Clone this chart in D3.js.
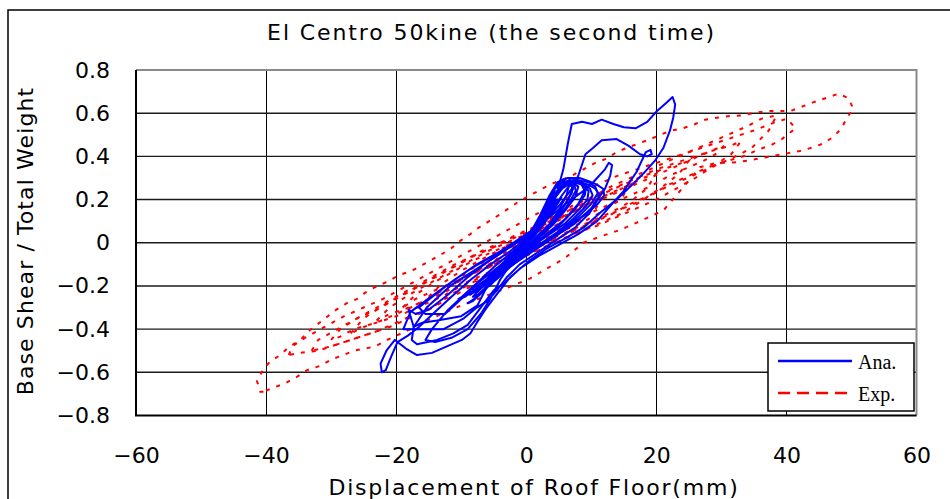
<!DOCTYPE html>
<html>
<head>
<meta charset="utf-8">
<script src="https://cdn.jsdelivr.net/npm/d3@7/dist/d3.min.js"></script>
<style>
  html, body { margin: 0; padding: 0; background: #fff; }
  svg { display: block; }
  text { fill: #000; }
</style>
</head>
<body>
<svg id="chart" width="950" height="499"></svg>
<script>
// Axis ticks
const xTicks = [-60, -40, -20, 0, 20, 40, 60];
const yTicks = [-0.8, -0.6, -0.4, -0.2, 0, 0.2, 0.4, 0.6, 0.8];

// Texts
const chartTitle = "El Centro 50kine (the second time)";
const xTitle = "Displacement of Roof Floor(mm)";
const yTitle = "Base Shear / Total Weight";
const seriesNames = ["Ana.", "Exp."];

// Analysis: [displacement (mm), base shear / total weight]
const anaSmall = [
  [0,0],[1.2,0.04],[2.5,0.09],[3.6,0.13],[3,0.11],[1.5,0.05],[0,0],[-1.5,-0.04],[-2.8,-0.08],[-3.6,-0.1],[-2.8,-0.08],[-1.2,-0.03],
  [0.5,0.02],[2,0.08],[3.5,0.14],[4.8,0.19],[5.4,0.21],[4.6,0.17],[3,0.1],[1.2,0.03],[-0.8,-0.03],[-2.6,-0.08],[-4.2,-0.12],[-5.2,-0.15],[-4.4,-0.13],[-2.6,-0.07],[-0.8,-0.01],
  [1,0.05],[2.8,0.13],[4.2,0.2],[5.5,0.25],[6.5,0.27],[7.4,0.27],[7.6,0.24],[6.5,0.18],[4.8,0.11],[2.6,0.04],[0.4,-0.02],[-2,-0.08],[-4.2,-0.13],[-6,-0.17],[-6.8,-0.19],[-6,-0.18],[-4,-0.13],[-2,-0.07],[0,-0.01],
  [1.8,0.07],[3.2,0.15],[4.5,0.23],[5.6,0.27],[7,0.285],[8.4,0.28],[9.2,0.26],[9,0.22],[7.6,0.16],[5.4,0.09],[3,0.03],[0.6,-0.03],[-1.8,-0.09],[-4,-0.14],[-6.4,-0.19],[-8,-0.22],[-8.4,-0.21],[-7.2,-0.18],[-5,-0.13],[-2.6,-0.07],[-0.4,-0.01],
  [1.6,0.07],[3.4,0.16],[4.8,0.23],[6.2,0.28],[7.8,0.29],[9.6,0.28],[10.6,0.26],[11,0.23],[10,0.18],[8,0.12],[5.5,0.06],[3,0.01],[0.5,-0.04],[-2,-0.1],[-4.6,-0.16],[-7,-0.21],[-8.8,-0.24],[-8.2,-0.23],[-6,-0.17],[-3.4,-0.09],[-1,-0.02],
  [0.8,0.04],[2.2,0.11],[3.6,0.18],[4.6,0.23],[5.2,0.26],[6,0.28],[6.8,0.275],[7.2,0.25],[6.4,0.2],[5,0.13],[3.2,0.07],[1.2,0.01],[-1,-0.05],[-3,-0.1],[-5,-0.15],[-6.5,-0.18],[-7.4,-0.2],[-6.6,-0.19],[-4.8,-0.14],[-2.8,-0.08],[-0.8,-0.02],
  [1.4,0.06],[3,0.14],[4.4,0.21],[5.8,0.26],[7.2,0.28],[8.6,0.27],[9.6,0.24],[9.4,0.2],[8,0.15],[6,0.09],[3.6,0.04],[1.2,-0.01],[-1.4,-0.07],[-3.8,-0.12],[-5.6,-0.16],[-7.2,-0.2],[-7.8,-0.22],[-6.8,-0.2],[-4.6,-0.14],[-2.2,-0.07],[0,-0.01]
];

const anaDense = [
  [0,0.01],[1.5,0.08],[2.8,0.16],[3.8,0.23],[4.6,0.27],[5.4,0.29],[6.4,0.3],[7.2,0.28],[7,0.23],[5.8,0.17],[4,0.1],[2,0.04],[0,-0.02],[-2.2,-0.08],[-4.4,-0.14],[-6.2,-0.19],[-7.6,-0.23],[-8.2,-0.25],[-7.4,-0.24],[-5.6,-0.19],[-3.6,-0.13],[-1.6,-0.06],
  [0.4,0.02],[2,0.1],[3.4,0.19],[4.4,0.25],[5.6,0.28],[6.8,0.29],[8,0.29],[9,0.27],[9.8,0.25],[10.2,0.22],[9.2,0.17],[7.2,0.11],[4.8,0.05],[2.4,0],[0,-0.05],[-2.4,-0.11],[-4.6,-0.17],[-6.6,-0.22],[-8,-0.26],[-9,-0.28],[-8.2,-0.27],[-6.4,-0.22],[-4.2,-0.15],[-2,-0.08],[0,-0.01],
  [1.6,0.08],[3,0.17],[4,0.24],[5,0.27],[6,0.285],[6.6,0.27],[6.2,0.22],[5,0.15],[3.4,0.08],[1.6,0.03],[-0.4,-0.03],[-2.6,-0.09],[-4.8,-0.15],[-6.8,-0.2],[-9.2,-0.24],[-10.4,-0.26],[-9.4,-0.25],[-7.2,-0.2],[-4.8,-0.13],[-2.4,-0.06],[0,0.01],
  [2,0.12],[3.6,0.22],[4.8,0.28],[6.4,0.3],[8.2,0.3],[9.6,0.285],[10.8,0.27],[11.8,0.25],[12,0.22],[11,0.18],[9,0.13],[6.6,0.08],[4,0.03],[1.4,-0.02],[-1,-0.07],[-3.4,-0.13],[-5.6,-0.18],[-7.6,-0.22],[-8.6,-0.24],[-7.6,-0.21],[-5.4,-0.15],[-3,-0.08],[-0.8,-0.02],
  [1,0.04],[2.6,0.12],[3.8,0.2],[4.4,0.24],[3.8,0.18],[2.4,0.1],[0.8,0.03],[-1,-0.04],[-3,-0.1],[-5,-0.16],[-6.4,-0.21],[-5.6,-0.2],[-3.8,-0.14],[-1.8,-0.07],[0,0]
];

const anaLarge = [
  [0.8,0.03],[2.6,0.11],[4,0.18],[4.7,0.23],[5.7,0.34],[6.4,0.46],[7,0.55],[8.6,0.56],[10.1,0.55],[11.6,0.57],[13.4,0.55],[15,0.535],[16.8,0.53],[18.6,0.56],[20.1,0.61],[21.6,0.65],[22.5,0.675],[22.9,0.64],[22.6,0.58],[22.1,0.52],[21.1,0.44],[19.8,0.38],[18,0.32],[16,0.26],[13.9,0.2],[11.4,0.14],[8.8,0.07],[6,0.02],[3,-0.03],[0.6,-0.08],[-2.5,-0.16],[-4.8,-0.25],[-6.3,-0.31],[-7.6,-0.37],[-8.6,-0.42],[-9.9,-0.45],[-12.2,-0.48],[-14.5,-0.51],[-16.8,-0.52],[-18.5,-0.49],[-20.2,-0.45],[-21.5,-0.5],[-22.4,-0.56],[-22.2,-0.6],[-21.6,-0.59],[-20.8,-0.53],[-19.8,-0.46],[-18.2,-0.43],[-16.5,-0.39],[-14,-0.32],[-11.5,-0.25],[-8.5,-0.17],[-5.5,-0.1],[-2.5,-0.04],[0,0.02],
  [2.5,0.09],[5,0.17],[7,0.25],[8,0.31],[9.1,0.41],[10.3,0.44],[11.6,0.475],[13.9,0.48],[15.7,0.45],[17.5,0.41],[18.6,0.4],[19.3,0.41],[19.1,0.43],[18.4,0.42],[17.6,0.37],[17,0.33],[15,0.24],[12.9,0.17],[10.9,0.1],[8,0.04],[5,-0.01],[2,-0.06],[-1,-0.12],[-3.5,-0.19],[-5,-0.22],[-7,-0.3],[-9,-0.38],[-11.2,-0.42],[-13.7,-0.45],[-16.8,-0.47],[-17.6,-0.45],[-17.3,-0.39],[-15.3,-0.3],[-11.7,-0.2],[-8.1,-0.13],[-5,-0.07],[-2,-0.01],[1,0.05]
];

const anaLate = [
  [1,0.05],[4,0.13],[6.5,0.19],[8.8,0.24],[10.3,0.28],[12.1,0.34],[12.7,0.37],[13.2,0.36],[12.9,0.31],[12.1,0.25],[11.1,0.205],[9.8,0.14],[7.5,0.07],[5,0.02],[2,-0.04],[-1,-0.1],[-3,-0.16],[-4.5,-0.22],[-6,-0.27],[-7.6,-0.3],[-9.6,-0.35],[-12.7,-0.4],[-16.3,-0.4],[-18.9,-0.4],[-17.8,-0.32],[-13.7,-0.23],[-10.7,-0.165],[-7.6,-0.1],[-4,-0.04],[-1,0.01],
  [2,0.07],[4,0.15],[5.5,0.22],[6.5,0.26],[8,0.28],[9.5,0.27],[10.6,0.25],[11.3,0.22],[10,0.16],[7.5,0.09],[5,0.04],[2.5,-0.01],[0,-0.06],[-3,-0.12],[-5,-0.16],[-6.6,-0.18],[-8.6,-0.22],[-10.7,-0.28],[-12.5,-0.33],[-15.5,-0.33],[-16.5,-0.3],[-14,-0.24],[-11,-0.17],[-8,-0.11],[-5,-0.06],[-2,0],
  [1.5,0.07],[3.5,0.16],[5,0.24],[6,0.28],[7.5,0.29],[8.5,0.27],[9,0.24],[8,0.18],[6,0.11],[3.5,0.05],[1,-0.01],[-2,-0.08],[-4.5,-0.15],[-6,-0.2],[-7.5,-0.29],[-10,-0.34],[-13.7,-0.36],[-16,-0.37],[-17.3,-0.39],[-18.1,-0.31],[-17,-0.33],[-15,-0.31],[-12,-0.24],[-9,-0.16],[-6,-0.09],[-3,-0.03],[0,0.03],
  [2,0.1],[3.5,0.17],[4.6,0.22],[5.8,0.27],[7,0.28],[8,0.26],[7.5,0.21],[6,0.15],[4,0.08],[2,0.03],[0,-0.02],[-2,-0.08],[-4,-0.17],[-5.5,-0.26],[-7,-0.33],[-9,-0.4],[-11.5,-0.44],[-14,-0.46],[-15.5,-0.45],[-14.5,-0.4],[-12,-0.31],[-9.5,-0.24],[-7,-0.17],[-4.5,-0.1],[-2,-0.04],[0,0.01],
  [2,0.08],[3.5,0.15],[4.6,0.2],[3.6,0.14],[2,0.07],[0,0],[-2,-0.07],[-4,-0.12],[-5.5,-0.16],[-6.5,-0.2],[-5.5,-0.18],[-3.5,-0.12],[-1.5,-0.05],[0.5,0.02],[2.5,0.1],[3.8,0.16],[4.8,0.2],[4,0.15],[2.5,0.08],[0.5,0.01],[-1.5,-0.05],[-3,-0.09],[-4,-0.12],[-3,-0.09],[-1.5,-0.04],[0,0]
];

// Experiment: one array per cycle
const expCycle1 = [
  [-40.4,-0.69],[-40.9,-0.69],[-41.4,-0.64],[-40.5,-0.59],[-39.4,-0.55],[-37.8,-0.52],[-36.4,-0.48],[-34.7,-0.45],[-33.5,-0.41],[-32.2,-0.38],[-30.5,-0.34],[-29.2,-0.31],[-27.6,-0.28],[-26,-0.26],[-24.7,-0.23],[-22.9,-0.2],[-21.3,-0.18],[-19.6,-0.15],[-17.6,-0.13],[-15.8,-0.1],[-13.7,-0.065],[-11.7,-0.03],[-10.1,0.01],[-8.6,0.04],[-7.3,0.07],[-4.1,0.13],[-1.2,0.19],[0.6,0.22],[3.7,0.27],[7,0.31],[10.6,0.37],[12.4,0.39],[13.9,0.42],[15.5,0.44],[17.3,0.46],[19.1,0.48],[20.6,0.5],[22.4,0.52],[24.1,0.53],[26,0.55],[27.5,0.57],[29.6,0.58],[31.4,0.587],[33.2,0.59],[34.9,0.6],[37,0.61],[40.6,0.61],[44.1,0.65],[48,0.69],[49.5,0.67],[50.3,0.62],[49.3,0.58],[48.5,0.53],[47.2,0.49],[45.7,0.46],[43.9,0.44],[42.1,0.425],[40.3,0.415],[38.5,0.405],[36.7,0.395],[34.9,0.385],[32.9,0.375],[31.1,0.37],[29.3,0.37],[26.7,0.35],[24.5,0.27],[21.1,0.15],[17.5,0.1],[14.5,0.06],[11.5,0.03],[8.8,0],[6,-0.07],[3.7,-0.11],[0.6,-0.165],[-3,-0.21],[-6.5,-0.25],[-10,-0.29],[-13,-0.33],[-16,-0.37],[-18.5,-0.41],[-21.4,-0.45],[-23.2,-0.48],[-26.5,-0.5],[-28.1,-0.52],[-29.9,-0.54],[-31.7,-0.57],[-33.7,-0.59],[-35.2,-0.62],[-37,-0.65],[-38.8,-0.67],[-40.4,-0.69]
];
const expCycle2 = [
  [-36.5,-0.52],[-36,-0.48],[-34,-0.44],[-31,-0.39],[-28,-0.34],[-25,-0.3],[-22,-0.26],[-19,-0.21],[-16,-0.16],[-13,-0.11],[-10,-0.06],[-7,-0.01],[-4,0.04],[-1,0.09],[2,0.14],[5,0.19],[8,0.23],[11,0.27],[14,0.31],[17,0.34],[20,0.37],[23,0.4],[26,0.43],[29,0.46],[32,0.49],[35,0.52],[38,0.555],[40.1,0.575],[41.4,0.53],[39.3,0.48],[37.5,0.45],[35.5,0.43],[33.9,0.405],[31,0.38],[28,0.35],[25,0.31],[22,0.27],[19,0.22],[16,0.18],[13,0.13],[10,0.09],[7,0.05],[4,0.01],[1,-0.03],[-2,-0.08],[-5,-0.13],[-8,-0.18],[-11,-0.23],[-14,-0.29],[-17,-0.33],[-20,-0.37],[-23,-0.41],[-26,-0.44],[-29,-0.47],[-32,-0.5],[-34.7,-0.51],[-36.5,-0.52]
];
const expCycle3 = [
  [-33,-0.5],[-32,-0.45],[-29,-0.4],[-26,-0.35],[-23,-0.31],[-20,-0.26],[-17,-0.21],[-14,-0.16],[-11,-0.11],[-8,-0.06],[-5,-0.02],[-2,0.03],[1,0.07],[4,0.12],[7,0.17],[10,0.21],[13,0.26],[16,0.3],[19,0.34],[22,0.38],[25,0.42],[28,0.46],[31,0.5],[34,0.54],[36.2,0.575],[38.5,0.59],[37.3,0.52],[36,0.48],[34.7,0.44],[32.9,0.41],[30,0.37],[27,0.33],[24,0.29],[21,0.25],[18,0.2],[15,0.16],[12,0.12],[9,0.08],[6,0.04],[3,0],[0,-0.05],[-3,-0.1],[-6,-0.15],[-9,-0.21],[-12,-0.26],[-15,-0.31],[-18,-0.35],[-21,-0.39],[-24,-0.42],[-27,-0.45],[-30,-0.48],[-33,-0.5]
];
const expCycle4 = [
  [-30,-0.45],[-28.6,-0.4],[-26,-0.35],[-23,-0.3],[-20,-0.25],[-17,-0.2],[-14,-0.15],[-11,-0.1],[-8,-0.06],[-5,-0.02],[-2,0.02],[1,0.06],[4,0.1],[7,0.14],[10,0.18],[13,0.22],[16,0.26],[19,0.3],[22,0.34],[25,0.38],[28,0.42],[30.4,0.45],[29.1,0.41],[27.3,0.38],[25,0.35],[22,0.31],[19,0.26],[16,0.22],[13,0.18],[10,0.14],[7,0.1],[4,0.06],[1,0.01],[-2,-0.04],[-5,-0.09],[-8,-0.14],[-11,-0.19],[-14,-0.24],[-17,-0.29],[-20,-0.33],[-23,-0.37],[-26.5,-0.4],[-28.6,-0.435],[-30,-0.45]
];
const expCycle5 = [
  [-27,-0.42],[-25,-0.35],[-22,-0.29],[-19,-0.24],[-16,-0.19],[-13,-0.14],[-10,-0.09],[-7,-0.04],[-4,0],[-1,0.04],[2,0.08],[5,0.13],[8,0.17],[11,0.22],[14,0.26],[17,0.3],[20,0.34],[23,0.37],[26,0.4],[29,0.43],[31.5,0.45],[33,0.47],[31.5,0.41],[29,0.36],[26,0.3],[23,0.25],[20,0.2],[17,0.16],[14,0.12],[11,0.08],[8,0.05],[5,0.01],[2,-0.03],[-1,-0.07],[-4,-0.11],[-7,-0.16],[-10,-0.2],[-13,-0.25],[-16,-0.29],[-19,-0.33],[-22,-0.36],[-25,-0.39],[-27,-0.42]
];
const expCycle6 = [
  [-23,-0.36],[-21,-0.3],[-18,-0.24],[-15,-0.19],[-12,-0.14],[-9,-0.09],[-6,-0.04],[-3,0],[0,0.04],[3,0.09],[6,0.14],[9,0.19],[12,0.23],[15,0.27],[18,0.31],[21,0.34],[23,0.36],[25,0.38],[23.5,0.32],[21,0.26],[18,0.2],[15,0.14],[12,0.1],[9,0.06],[6,0.02],[3,-0.02],[0,-0.06],[-3,-0.1],[-6,-0.14],[-9,-0.18],[-12,-0.22],[-15,-0.26],[-18,-0.3],[-21,-0.33],[-23,-0.36]
];
const expCycle7 = [
  [-19,-0.3],[-17,-0.24],[-14,-0.18],[-11,-0.13],[-8,-0.08],[-5,-0.04],[-2,0],[1,0.04],[4,0.09],[7,0.14],[10,0.19],[13,0.23],[16,0.27],[18,0.3],[20,0.32],[18.5,0.25],[16,0.19],[13,0.14],[10,0.1],[7,0.06],[4,0.02],[1,-0.02],[-2,-0.06],[-5,-0.1],[-8,-0.14],[-11,-0.18],[-14,-0.22],[-17,-0.26],[-19,-0.3]
];
const expCycle8 = [
  [-15,-0.25],[-13,-0.19],[-10,-0.13],[-7,-0.08],[-4,-0.03],[-1,0.01],[2,0.06],[5,0.11],[8,0.16],[11,0.2],[14,0.24],[16,0.27],[14.5,0.2],[12,0.15],[9,0.1],[6,0.06],[3,0.02],[0,-0.03],[-3,-0.07],[-6,-0.11],[-9,-0.15],[-12,-0.2],[-15,-0.25]
];
const expCycle9 = [
  [-11,-0.19],[-9,-0.13],[-6,-0.08],[-3,-0.03],[0,0.02],[3,0.07],[6,0.12],[9,0.17],[12,0.22],[10.5,0.15],[8,0.1],[5,0.06],[2,0.02],[-1,-0.03],[-4,-0.07],[-7,-0.12],[-9,-0.15],[-11,-0.19]
];
const expCycle10 = [
  [-6,-0.12],[-4,-0.06],[-2,-0.02],[0,0.02],[2,0.06],[4,0.1],[6,0.14],[5,0.09],[3,0.05],[1,0.01],[-1,-0.03],[-3,-0.07],[-5,-0.1],[-6,-0.12]
];

const anaSeries = [anaSmall, anaDense, anaLarge, anaLate];
const expSeries = [expCycle1, expCycle2, expCycle3, expCycle4, expCycle5, expCycle6, expCycle7, expCycle8, expCycle9, expCycle10];

const svg = d3.select("#chart");
const plot = { left: 136, right: 916.5, top: 70, bottom: 415.5 };
const sansFont = "DejaVu Sans, Liberation Sans, sans-serif";
const serifFont = "Liberation Serif, DejaVu Serif, serif";

const x = d3.scaleLinear().domain([-60, 60]).range([plot.left, plot.right]);
const y = d3.scaleLinear().domain([-0.8, 0.8]).range([plot.bottom, plot.top]);

// Outer chart border
svg.append("rect")
  .attr("x", 8).attr("y", 10).attr("width", 960).attr("height", 520)
  .attr("fill", "#fff").attr("stroke", "#000").attr("stroke-width", 1.5);

// Plot background
svg.append("rect")
  .attr("x", plot.left).attr("y", plot.top)
  .attr("width", plot.right - plot.left).attr("height", plot.bottom - plot.top)
  .attr("fill", "#fff");

// Grid lines
svg.append("g").selectAll("line").data(xTicks.slice(1, -1)).join("line")
  .attr("x1", d => Math.round(x(d)) + 0.5).attr("x2", d => Math.round(x(d)) + 0.5)
  .attr("y1", plot.top).attr("y2", plot.bottom)
  .attr("stroke", "#000").attr("stroke-width", 1);
svg.append("g").selectAll("line").data(yTicks.slice(1, -1)).join("line")
  .attr("x1", plot.left).attr("x2", plot.right)
  .attr("y1", d => y(d)).attr("y2", d => y(d))
  .attr("stroke", "#1a1a1a").attr("stroke-width", 1.4);

// Plot frame: grey top/right, black left/bottom
svg.append("path")
  .attr("d", `M${plot.left},${plot.top}H${plot.right}V${plot.bottom}`)
  .attr("fill", "none").attr("stroke", "#8a8a8a").attr("stroke-width", 2);
svg.append("path")
  .attr("d", `M${plot.left},${plot.top}V${plot.bottom}H${plot.right}`)
  .attr("fill", "none").attr("stroke", "#000").attr("stroke-width", 2);

// Axes (labels only)
const fmtY = d => d === 0 ? "0" : d3.format(".1f")(d);
const yAxis = svg.append("g")
  .attr("transform", `translate(${plot.left},0)`)
  .call(d3.axisLeft(y).tickValues(yTicks).tickFormat(fmtY).tickSize(0).tickPadding(26));
const xAxis = svg.append("g")
  .attr("transform", `translate(0,${plot.bottom})`)
  .call(d3.axisBottom(x).tickValues(xTicks).tickFormat(d3.format("d")).tickSize(0).tickPadding(32));
[yAxis, xAxis].forEach(g => {
  g.select(".domain").remove();
  g.attr("font-family", null).attr("font-size", null);
  g.selectAll("text").style("font-size", "22px").style("font-family", sansFont).attr("fill", "#000");
});

// Data lines
svg.append("clipPath").attr("id", "plotClip").append("rect")
  .attr("x", plot.left).attr("y", plot.top)
  .attr("width", plot.right - plot.left).attr("height", plot.bottom - plot.top);

const line = d3.line().x(d => x(d[0])).y(d => y(d[1]));
const dataLayer = svg.append("g").attr("clip-path", "url(#plotClip)");

dataLayer.selectAll("path.exp").data(expSeries).join("path")
  .attr("class", "exp")
  .attr("d", line)
  .attr("fill", "none").attr("stroke", "#ff0000").attr("stroke-width", 2)
  .attr("stroke-dasharray", "4,7");

dataLayer.selectAll("path.ana").data(anaSeries).join("path")
  .attr("class", "ana")
  .attr("d", line)
  .attr("fill", "none").attr("stroke", "#0000ff").attr("stroke-width", 2)
  .attr("stroke-linejoin", "round");

// Titles
svg.append("text")
  .attr("x", 491.5).attr("y", 40)
  .attr("text-anchor", "middle")
  .style("font-family", sansFont).style("font-size", "22px").style("letter-spacing", "1.9px")
  .text(chartTitle);
svg.append("text")
  .attr("x", 534).attr("y", 495)
  .attr("text-anchor", "middle")
  .style("font-family", sansFont).style("font-size", "22px").style("letter-spacing", "1.8px")
  .text(xTitle);
svg.append("text")
  .attr("transform", "translate(33,241) rotate(-90)")
  .attr("text-anchor", "middle")
  .style("font-family", sansFont).style("font-size", "22px").style("letter-spacing", "1.1px")
  .text(yTitle);

// Legend
const legend = svg.append("g");
legend.append("rect")
  .attr("x", 768).attr("y", 343).attr("width", 146).attr("height", 68)
  .attr("fill", "#fff").attr("stroke", "#000").attr("stroke-width", 1.5);
const legendRows = [
  { name: seriesNames[0], color: "#0000ff", dash: null, y: 361 },
  { name: seriesNames[1], color: "#ff0000", dash: "12,7", y: 393 }
];
legendRows.forEach(r => {
  legend.append("line")
    .attr("x1", 778).attr("x2", 852).attr("y1", r.y).attr("y2", r.y)
    .attr("stroke", r.color).attr("stroke-width", 2.5)
    .attr("stroke-dasharray", r.dash);
  legend.append("text")
    .attr("x", 858).attr("y", r.y + 8)
    .style("font-family", serifFont).style("font-size", "20px")
    .text(r.name);
});
</script>
</body>
</html>
